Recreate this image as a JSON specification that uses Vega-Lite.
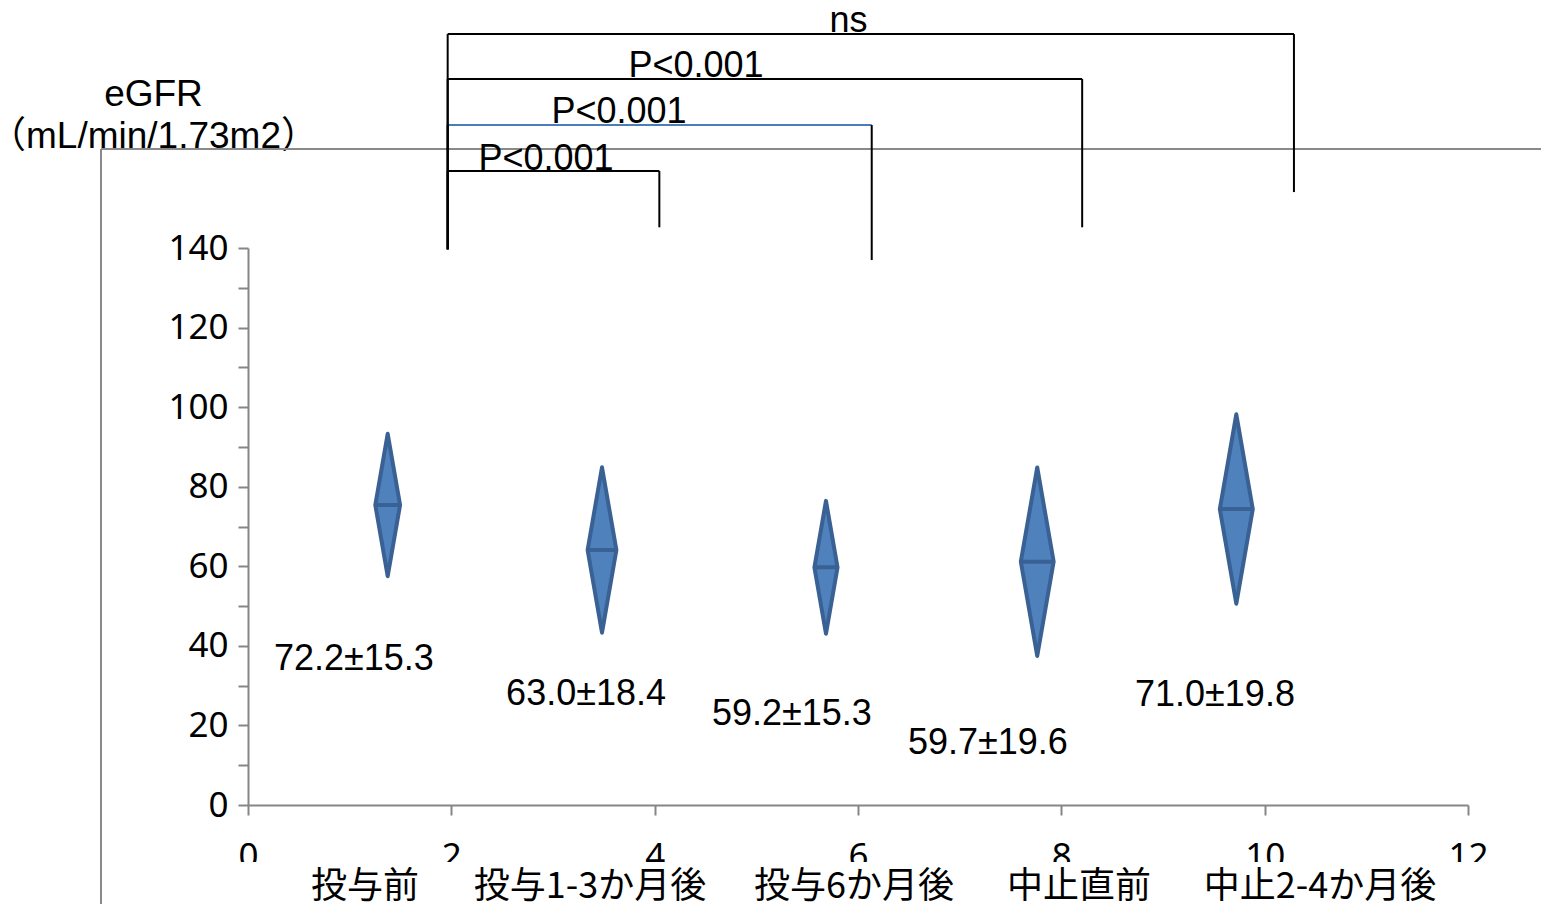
{
  "$schema": "https://vega.github.io/schema/vega-lite/v6.json",
  "width": 1220,
  "height": 557,
  "autosize": {"type": "none"},
  "padding": {"left": 248, "top": 248, "right": 73, "bottom": 99},
  "background": "white",
  "config": {
    "view": {"stroke": null},
    "axis": {
      "domainColor": "#868686",
      "domainWidth": 2,
      "tickColor": "#868686",
      "tickWidth": 2,
      "tickSize": 10,
      "labelColor": "black",
      "labelFont": "Noto Sans",
      "labelFontSize": 35,
      "grid": false,
      "zindex": 0
    }
  },
  "datasets": {
    "diamonds": [
      {"time": "投与前", "x": 1.374, "mid": 75.40, "half": 17.9, "label": "72.2±15.3", "lx": 1.041, "ly": 33.9, "catX": 1.151},
      {"time": "投与1-3か月後", "x": 3.482, "mid": 64.09, "half": 20.8, "label": "63.0±18.4", "lx": 3.325, "ly": 25.1, "catX": 3.364},
      {"time": "投与6か月後", "x": 5.685, "mid": 59.74, "half": 16.7, "label": "59.2±15.3", "lx": 5.350, "ly": 20.1, "catX": 5.960},
      {"time": "中止直前", "x": 7.763, "mid": 61.15, "half": 23.7, "label": "59.7±19.6", "lx": 7.278, "ly": 12.8, "catX": 8.173},
      {"time": "中止2-4か月後", "x": 9.721, "mid": 74.39, "half": 23.8, "label": "71.0±19.8", "lx": 9.511, "ly": 24.9, "catX": 10.544}
    ],
    "brackets": [
      {"comparison": "投与前 vs 中止2-4か月後", "label": "ns", "xL": 1.964, "xR": 10.288, "yTop": 193.77, "yRightEnd": 154.06, "yLeftEnd": 139.66, "tx": 5.906, "ty": 194.27},
      {"comparison": "投与前 vs 中止直前", "label": "P<0.001", "xL": 1.964, "xR": 8.205, "yTop": 182.46, "yRightEnd": 145.2, "yLeftEnd": 139.66, "tx": 4.406, "ty": 183.0},
      {"comparison": "投与前 vs 投与6か月後", "label": "P<0.001", "xL": 1.964, "xR": 6.135, "yTop": 170.9, "yRightEnd": 136.97, "yLeftEnd": 139.66, "tx": 3.649, "ty": 171.4},
      {"comparison": "投与前 vs 投与1-3か月後", "label": "P<0.001", "xL": 1.964, "xR": 4.046, "yTop": 159.34, "yRightEnd": 145.2, "yLeftEnd": 139.66, "tx": 2.931, "ty": 159.6}
    ],
    "single": [{}]
  },
  "encoding": {
    "x": {
      "type": "quantitative",
      "scale": {"domain": [0, 12], "nice": false, "zero": true},
      "axis": {"values": [0, 2, 4, 6, 8, 10, 12], "labelPadding": 24, "labelFlush": false, "labelOverlap": false, "title": null}
    },
    "y": {
      "type": "quantitative",
      "scale": {"domain": [0, 140], "nice": false, "zero": true},
      "axis": {
        "values": [0, 10, 20, 30, 40, 50, 60, 70, 80, 90, 100, 110, 120, 130, 140],
        "labelExpr": "datum.value % 20 === 0 ? datum.label : ''",
        "labelPadding": 10,
        "labelOverlap": false,
        "title": ["eGFR", "（mL/min/1.73m2）"],
        "titleAngle": 0,
        "titleAlign": "center",
        "titleBaseline": "alphabetic",
        "titleX": -95,
        "titleY": -143,
        "titleFont": "'Liberation Sans', 'Noto Sans CJK JP'",
        "titleFontSize": 37,
        "titleFontWeight": "normal",
        "titleLineHeight": 42,
        "titleColor": "black"
      }
    }
  },
  "layer": [
    {
      "data": {"name": "single"},
      "mark": {"type": "rule", "color": "#898989", "strokeWidth": 2},
      "encoding": {"x": {"datum": -1.446}, "x2": {"datum": 12.75}, "y": {"datum": 164.87}}
    },
    {
      "data": {"name": "single"},
      "mark": {"type": "rule", "color": "#898989", "strokeWidth": 2},
      "encoding": {"x": {"datum": -1.446}, "y": {"datum": 164.87}, "y2": {"datum": -30}}
    },
    {
      "data": {"name": "brackets"},
      "mark": {"type": "rule", "strokeWidth": 2},
      "encoding": {
        "x": {"field": "xL", "type": "quantitative"},
        "x2": {"field": "xR"},
        "y": {"field": "yTop", "type": "quantitative"},
        "color": {
          "field": "comparison",
          "type": "nominal",
          "scale": {
            "domain": ["投与前 vs 中止2-4か月後", "投与前 vs 中止直前", "投与前 vs 投与6か月後", "投与前 vs 投与1-3か月後"],
            "range": ["#000000", "#000000", "#4A7EBB", "#000000"]
          },
          "legend": null
        }
      }
    },
    {
      "data": {"name": "brackets"},
      "mark": {"type": "rule", "strokeWidth": 2, "color": "black"},
      "encoding": {
        "x": {"field": "xL", "type": "quantitative"},
        "y": {"field": "yTop", "type": "quantitative"},
        "y2": {"field": "yLeftEnd"}
      }
    },
    {
      "data": {"name": "brackets"},
      "mark": {"type": "rule", "strokeWidth": 2, "color": "black"},
      "encoding": {
        "x": {"field": "xR", "type": "quantitative"},
        "y": {"field": "yTop", "type": "quantitative"},
        "y2": {"field": "yRightEnd"}
      }
    },
    {
      "data": {"name": "brackets"},
      "mark": {"type": "text", "font": "Liberation Sans", "fontSize": 36, "color": "black", "align": "center", "baseline": "alphabetic"},
      "encoding": {
        "x": {"field": "tx", "type": "quantitative"},
        "y": {"field": "ty", "type": "quantitative"},
        "text": {"field": "label"}
      }
    },
    {
      "data": {"name": "diamonds"},
      "mark": {
        "type": "point",
        "shape": "M0,-1L0.174,0L0,1L-0.174,0ZM-0.174,0L0.174,0",
        "filled": true,
        "fill": "#4F81BD",
        "stroke": "#3A6194",
        "strokeWidth": 4,
        "strokeJoin": "round",
        "strokeCap": "round",
        "opacity": 1,
        "fillOpacity": 1
      },
      "encoding": {
        "x": {"field": "x", "type": "quantitative"},
        "y": {"field": "mid", "type": "quantitative"},
        "size": {
          "field": "half",
          "type": "quantitative",
          "scale": {"type": "pow", "exponent": 2, "domain": [0, 25], "range": [0, 39581], "zero": true, "nice": false},
          "legend": null
        }
      }
    },
    {
      "data": {"name": "diamonds"},
      "mark": {"type": "text", "font": "Liberation Sans", "fontSize": 36, "color": "black", "align": "center", "baseline": "alphabetic"},
      "encoding": {
        "x": {"field": "lx", "type": "quantitative"},
        "y": {"field": "ly", "type": "quantitative"},
        "text": {"field": "label"}
      }
    },
    {
      "data": {"name": "single"},
      "mark": {"type": "rect", "color": "white", "opacity": 1},
      "encoding": {"x": {"datum": -0.18}, "x2": {"datum": 12.75}, "y": {"datum": -14.33}, "y2": {"datum": -30}}
    },
    {
      "data": {"name": "diamonds"},
      "mark": {"type": "text", "font": "Noto Sans CJK JP", "fontSize": 36, "color": "black", "align": "center", "baseline": "alphabetic"},
      "encoding": {
        "x": {"field": "catX", "type": "quantitative"},
        "y": {"datum": -23.3},
        "text": {"field": "time"}
      }
    }
  ]
}
